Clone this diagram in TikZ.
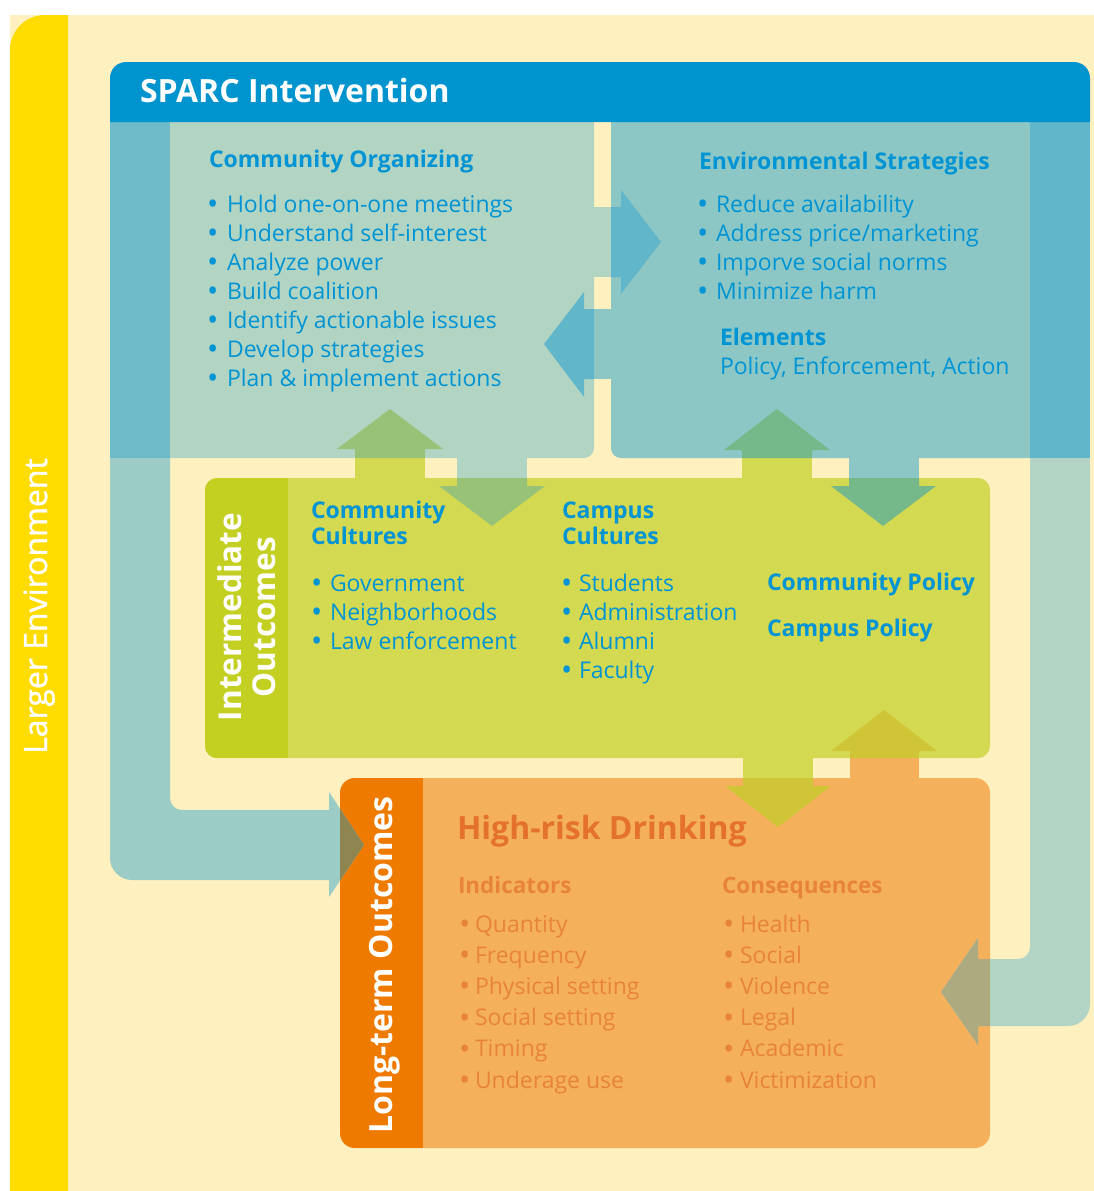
\documentclass[tikz,border=0pt]{standalone}
\usepackage{fontspec}
\setmainfont{Open Sans}
\newfontfamily\medfont{Open Sans}[FakeBold=1.3]
\definecolor{cream}{HTML}{FFF0C0}
\definecolor{sunny}{HTML}{FFDC00}
\definecolor{hblue}{HTML}{0094CF}
\definecolor{stripL}{HTML}{6EBAC8}
\definecolor{stripR}{HTML}{62B6C9}
\definecolor{coP}{HTML}{B2D4C3}
\definecolor{esP}{HTML}{8CC7C5}
\definecolor{arrB}{HTML}{62B6C9}
\definecolor{pipeL}{HTML}{9BCCC6}
\definecolor{pipeR}{HTML}{B2D4C4}
\definecolor{lime}{HTML}{D4D952}
\definecolor{limeD}{HTML}{C3CF21}
\definecolor{grnA}{HTML}{97C277}
\definecolor{grnB}{HTML}{75B98B}
\definecolor{orgP}{HTML}{F5B05C}
\definecolor{orgD}{HTML}{EE7A00}
\definecolor{olv}{HTML}{CFC536}
\definecolor{olvL}{HTML}{8E8551}
\definecolor{olvR}{HTML}{ADAA80}
\definecolor{tblue}{HTML}{0094D4}
\definecolor{torg}{HTML}{E4722C}
\definecolor{torgL}{HTML}{E8843A}
\newcommand{\bitem}[2]{\makebox[#1][l]{\raisebox{-2.5pt}{\fontsize{30}{30}\selectfont •}}#2}
\begin{document}
\begin{tikzpicture}[x=1pt,y=-1pt,
  lbl/.style={inner sep=0pt, outer sep=0pt, anchor=base west},
  hd/.style={lbl, text=tblue, font=\fontsize{23}{28}\selectfont\bfseries},
  it/.style={lbl, text=tblue, font=\fontsize{23}{28}\selectfont},
  ohd/.style={lbl, text=torgL, font=\fontsize{22.5}{27}\selectfont\bfseries},
  oit/.style={lbl, text=torgL, font=\fontsize{23}{28}\selectfont},
  vt/.style={inner sep=0pt, outer sep=0pt, rotate=90, anchor=base, text=white, font=\fontsize{32}{36}\selectfont\bfseries}
]
\useasboundingbox (0,0) rectangle (1094,1191);
\fill[white] (0,0) rectangle (1094,1191);
\fill[cream] (10,15) rectangle (1094,1191);
\fill[sunny] (10,1191) -- (10,50) arc[start angle=180,end angle=270,radius=35] -- (68,15) -- (68,1191) -- cycle;

% top band
\fill[stripL] (110,122) rectangle (170,458);
\fill[coP] (170,122) -- (594,122) -- (594,448) arc[start angle=0,end angle=90,radius=10] -- (170,458) -- cycle;
\fill[esP] (611,122) -- (1030,122) -- (1030,458) -- (621,458) arc[start angle=90,end angle=180,radius=10] -- cycle;
\fill[stripR] (1030,122) rectangle (1090,458);
% header
\fill[hblue] (110,122) -- (110,78) arc[start angle=180,end angle=270,radius=16] -- (1074,62) arc[start angle=270,end angle=360,radius=16] -- (1090,122) -- cycle;

% intermediate box
\fill[lime, rounded corners=12] (205,478) rectangle (990,758);
\begin{scope}
 \clip[rounded corners=12] (205,478) rectangle (990,758);
 \fill[limeD] (205,478) rectangle (288,758);
\end{scope}
% long-term box
\fill[orgP, rounded corners=15] (340,778) rectangle (990,1148);
\begin{scope}
 \clip[rounded corners=15] (340,778) rectangle (990,1148);
 \fill[orgD] (340,778) rectangle (423,1148);
\end{scope}

% pipes
\fill[pipeL] (110,458) -- (110,858) arc[start angle=180,end angle=90,radius=22] -- (329,880) -- (329,897) -- (364,845) -- (329,792) -- (329,810) -- (182,810) arc[start angle=90,end angle=180,radius=12] -- (170,458) -- cycle;
\fill[pipeR] (1030,458) -- (1090,458) -- (1090,1004) arc[start angle=0,end angle=90,radius=22] -- (978,1026) -- (978,1045) -- (941,992) -- (978,938) -- (978,959) -- (1018,959) arc[start angle=90,end angle=0,radius=12] -- cycle;
\begin{scope}
 \clip (340,778) rectangle (990,1148);
 \fill[olvL] (329,897) -- (364,845) -- (329,792) -- cycle;
 \fill[olvR] (990,1026) -- (978,1026) -- (978,1045) -- (941,992) -- (978,938) -- (978,959) -- (990,959) -- cycle;
\end{scope}

% top band arrows
\fill[coP] (594,207) rectangle (611,277);
\fill[arrB] (611,207) -- (621,207) -- (621,190) -- (661,242) -- (621,294) -- (621,277) -- (611,277) -- cycle;
\fill[esP] (594,309) rectangle (611,379);
\fill[arrB] (594,309) -- (584,309) -- (584,292) -- (544,344) -- (584,397) -- (584,379) -- (594,379) -- cycle;

% band <-> intermediate arrows
\fill[lime] (355,458) rectangle (425,478);
\fill[grnA] (355,458) -- (355,449) -- (337,449) -- (390,409) -- (443,449) -- (425,449) -- (425,458) -- cycle;
\fill[coP] (457,458) rectangle (527,478);
\fill[grnA] (457,478) -- (457,486) -- (439,486) -- (492,526) -- (545,486) -- (527,486) -- (527,478) -- cycle;
\fill[lime] (742,458) rectangle (812,478);
\fill[grnB] (742,458) -- (742,450) -- (724,450) -- (777,409) -- (830,450) -- (812,450) -- (812,458) -- cycle;
\fill[esP] (849,458) rectangle (919,478);
\fill[grnB] (849,478) -- (849,486) -- (831,486) -- (883,526) -- (936,486) -- (919,486) -- (919,478) -- cycle;
% intermediate <-> long-term arrows
\fill[lime] (743,758) rectangle (813,778);
\fill[olv] (743,778) -- (743,786) -- (725,786) -- (778,827) -- (831,786) -- (813,786) -- (813,778) -- cycle;
\fill[orgP] (850,758) rectangle (919,778);
\fill[olv] (850,758) -- (850,751) -- (831,751) -- (884,710) -- (937,751) -- (919,751) -- (919,758) -- cycle;

% texts
\node[vt, font=\fontsize{32}{36}\selectfont\medfont] (larger) at (47,606) {Larger Environment};
\node[lbl, text=white, font=\fontsize{32}{36}\selectfont\bfseries] (title) at (140,102) {SPARC Intervention};

\node[hd] (coh) at (209,167) {Community Organizing};
\foreach \t [count=\i] in {Hold one-on-one meetings, Understand self-interest, Analyze power, Build coalition, Identify actionable issues, Develop strategies, {Plan \& implement actions}}
  \node[it] (co\i) at (207,{212+29*(\i-1)}) {\bitem{20pt}{\t}};

\node[hd] (esh) at (699,169) {Environmental Strategies};
\foreach \t [count=\i] in {Reduce availability, Address price/marketing, Imporve social norms, Minimize harm}
  \node[it] (es\i) at (697,{212+29*(\i-1)}) {\bitem{19pt}{\t}};
\node[hd] (elh) at (720,345) {Elements};
\node[it] (elt) at (720,374) {Policy, Enforcement, Action};

\node[vt, font=\fontsize{31.5}{36}\selectfont\bfseries] (int1) at (241,617) {Intermediate};
\node[vt, font=\fontsize{31.5}{36}\selectfont\bfseries] (int2) at (275,617) {Outcomes};

\node[hd] (cc1) at (311,518) {Community};
\node[hd] (cc2) at (311,544) {Cultures};
\foreach \t [count=\i] in {Government, Neighborhoods, Law enforcement}
  \node[it] (cc\i b) at (311,{591+29*(\i-1)}) {\bitem{19pt}{\t}};
\node[hd] (pc1) at (562,518) {Campus};
\node[hd] (pc2) at (562,544) {Cultures};
\foreach \t [count=\i] in {Students, Administration, Alumni, Faculty}
  \node[it] (pc\i b) at (561,{591+29*(\i-1)}) {\bitem{18pt}{\t}};
\node[hd] (cpol) at (767,590) {Community Policy};
\node[hd] (ppol) at (767,636) {Campus Policy};

\node[vt] (lto) at (392,965) {Long-term Outcomes};
\node[lbl, text=torg, font=\fontsize{32}{36}\selectfont\bfseries] (hrd) at (457,839) {High-risk Drinking};
\node[ohd] (indh) at (458,893) {Indicators};
\node[ohd] (conh) at (722,893) {Consequences};
\foreach \t [count=\i] in {Quantity, Frequency, Physical setting, Social setting, Timing, Underage use}
  \node[oit] (ind\i) at (459,{932+31.2*(\i-1)}) {\bitem{16pt}{\t}};
\foreach \t [count=\i] in {Health, Social, Violence, Legal, Academic, Victimization}
  \node[oit] (con\i) at (723,{932+31.2*(\i-1)}) {\bitem{17pt}{\t}};
\end{tikzpicture}
\end{document}
